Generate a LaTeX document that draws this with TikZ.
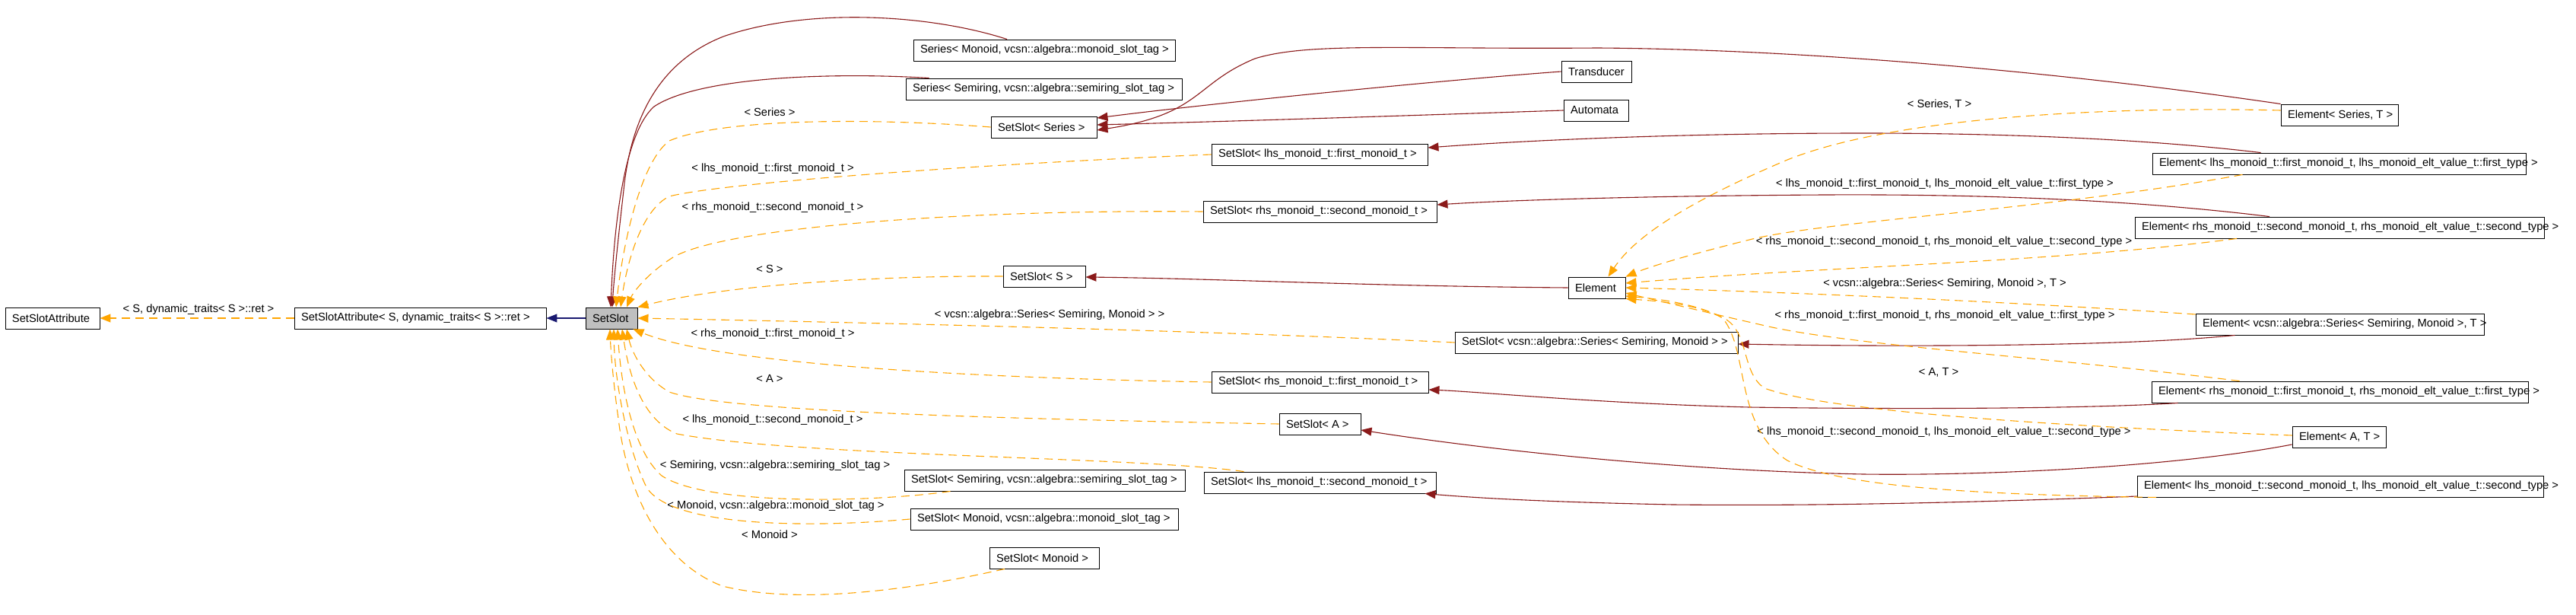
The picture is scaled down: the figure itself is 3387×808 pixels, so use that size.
\documentclass[tikz,border=0pt]{standalone}
\usepackage{fontspec}
\setmainfont{Liberation Sans}
\usetikzlibrary{arrows.meta,calc}
\definecolor{tmplc}{HTML}{FFA500}
\definecolor{privc}{HTML}{8B1A1A}
\definecolor{pubc}{HTML}{191970}
\definecolor{selc}{HTML}{BFBFBF}
\newcommand\bxt[2]{\makebox[#1pt][l]{\hspace*{9pt}#2}}
\begin{document}
\begin{tikzpicture}[x=1pt,y=-1pt,
  cls/.style={draw=black, line width=0.9pt, inner sep=0pt, minimum height=28pt, font=\fontsize{14.7}{17}\selectfont, fill=white},
  lbl/.style={inner sep=0pt, font=\fontsize{14.7}{17}\selectfont},
  tmpl/.style={draw=tmplc, line width=1.1pt, dash pattern=on 11pt off 7pt, -{Triangle[length=14pt,width=11pt,fill=tmplc]}},
  priv/.style={draw=privc, line width=1.1pt, -{Triangle[length=14pt,width=11pt,fill=privc]}},
  pub/.style={draw=pubc, line width=1.1pt, -{Triangle[length=14pt,width=11pt,fill=pubc]}}]
\useasboundingbox (0,0) rectangle (3387,808);
\fill[white] (0,0) rectangle (3387,808);
% nodes
\node[cls] (sa) at (69,418) {\bxt{124}{SetSlotAttribute}};
\node[cls] (sas) at (552.5,418) {\bxt{331}{SetSlotAttribute< S, dynamic\_traits< S >::ret >}};
\node[cls,fill=selc] (ss) at (804,418) {\bxt{68}{SetSlot}};
\node[cls] (serM) at (1373,66) {\bxt{344}{Series< Monoid, vcsn::algebra::monoid\_slot\_tag >}};
\node[cls] (serS) at (1372.5,117) {\bxt{363}{Series< Semiring, vcsn::algebra::semiring\_slot\_tag >}};
\node[cls] (ssSer) at (1372.5,167) {\bxt{139}{SetSlot< Series >}};
\node[cls] (trans) at (2099,94) {\bxt{92}{Transducer}};
\node[cls] (auto) at (2098.5,145) {\bxt{85}{Automata}};
\node[cls] (ssLF) at (1735,203) {\bxt{284}{SetSlot< lhs\_monoid\_t::first\_monoid\_t >}};
\node[cls] (ssRS) at (1735.5,278) {\bxt{307}{SetSlot< rhs\_monoid\_t::second\_monoid\_t >}};
\node[cls] (ssS) at (1373,363) {\bxt{108}{SetSlot< S >}};
\node[cls] (elem) at (2099.5,378) {\bxt{75}{Element}};
\node[cls] (ssV) at (2099,450) {\bxt{372}{SetSlot< vcsn::algebra::Series< Semiring, Monoid > >}};
\node[cls] (ssRF) at (1735.5,502) {\bxt{285}{SetSlot< rhs\_monoid\_t::first\_monoid\_t >}};
\node[cls] (ssA) at (1735.5,557) {\bxt{107}{SetSlot< A >}};
\node[cls] (ssSem) at (1373.5,631) {\bxt{369}{SetSlot< Semiring, vcsn::algebra::semiring\_slot\_tag >}};
\node[cls] (ssLS) at (1735.5,634) {\bxt{305}{SetSlot< lhs\_monoid\_t::second\_monoid\_t >}};
\node[cls] (ssMon) at (1373,682) {\bxt{352}{SetSlot< Monoid, vcsn::algebra::monoid\_slot\_tag >}};
\node[cls] (ssM) at (1373,733) {\bxt{144}{SetSlot< Monoid >}};
\node[cls] (eST) at (3076,151) {\bxt{154}{Element< Series, T >}};
\node[cls] (eLF) at (3075.5,215) {\bxt{491}{Element< lhs\_monoid\_t::first\_monoid\_t, lhs\_monoid\_elt\_value\_t::first\_type >}};
\node[cls] (eRS) at (3076,299) {\bxt{538}{Element< rhs\_monoid\_t::second\_monoid\_t, rhs\_monoid\_elt\_value\_t::second\_type >}};
\node[cls] (eV) at (3076.5,426) {\bxt{379}{Element< vcsn::algebra::Series< Semiring, Monoid >, T >}};
\node[cls] (eRF) at (3076.5,515) {\bxt{495}{Element< rhs\_monoid\_t::first\_monoid\_t, rhs\_monoid\_elt\_value\_t::first\_type >}};
\node[cls] (eAT) at (3075.5,574) {\bxt{123}{Element< A, T >}};
\node[cls] (eLS) at (3077,639) {\bxt{534}{Element< lhs\_monoid\_t::second\_monoid\_t, lhs\_monoid\_elt\_value\_t::second\_type >}};
% labels
\node[lbl] (l1) at (261,407) {< S, dynamic\_traits< S >::ret >};
\node[lbl] (l2) at (1012,147) {< Series >};
\node[lbl] (l3) at (1016,222) {< lhs\_monoid\_t::first\_monoid\_t >};
\node[lbl] (l4) at (1016,273) {< rhs\_monoid\_t::second\_monoid\_t >};
\node[lbl] (l5) at (1012,353) {< S >};
\node[lbl] (l6) at (1380,414) {< vcsn::algebra::Series< Semiring, Monoid > >};
\node[lbl] (l7) at (1016,439) {< rhs\_monoid\_t::first\_monoid\_t >};
\node[lbl] (l8) at (1012,497) {< A >};
\node[lbl] (l9) at (1016,552) {< lhs\_monoid\_t::second\_monoid\_t >};
\node[lbl] (l10) at (1019,612) {< Semiring, vcsn::algebra::semiring\_slot\_tag >};
\node[lbl] (l11) at (1020,665) {< Monoid, vcsn::algebra::monoid\_slot\_tag >};
\node[lbl] (l12) at (1012,702) {< Monoid >};
\node[lbl] (l13) at (2550,137) {< Series, T >};
\node[lbl] (l14) at (2557,242) {< lhs\_monoid\_t::first\_monoid\_t, lhs\_monoid\_elt\_value\_t::first\_type >};
\node[lbl] (l15) at (2556,318) {< rhs\_monoid\_t::second\_monoid\_t, rhs\_monoid\_elt\_value\_t::second\_type >};
\node[lbl] (l16) at (2557,373) {< vcsn::algebra::Series< Semiring, Monoid >, T >};
\node[lbl] (l17) at (2557,415) {< rhs\_monoid\_t::first\_monoid\_t, rhs\_monoid\_elt\_value\_t::first\_type >};
\node[lbl] (l18) at (2549,489) {< A, T >};
\node[lbl] (l19) at (2556,568) {< lhs\_monoid\_t::second\_monoid\_t, lhs\_monoid\_elt\_value\_t::second\_type >};
% left chain
\draw[tmpl] (sas.west) -- (sa.east);
\draw[pub] (ss.west) -- (sas.east);
% private to SetSlot
\draw[priv] ($(serM.north)+(-49,0)$) .. controls (1220,18) and (1060,10) .. (951,48) .. controls (870,80) and (830,150) .. (820,250) .. controls (812,320) and (807,370) .. ($(ss.north)+(1,0)$);
\draw[priv] ($(serS.north)+(-151,0)$) .. controls (1100,95) and (920,100) .. (860,140) .. controls (815,180) and (806,330) .. ($(ss.north)+(-1,0)$);
% templates to SetSlot
\draw[tmpl] (ssSer.west) .. controls (1150,155) and (950,155) .. (880,185) .. controls (840,215) and (818,330) .. ($(ss.north)+(6,0)$);
\draw[tmpl] (ssLF.west) .. controls (1300,215) and (950,240) .. (880,258) .. controls (845,275) and (825,340) .. ($(ss.north)+(12,0)$);
\draw[tmpl] (ssRS.west) .. controls (1250,275) and (950,300) .. (885,338) .. controls (850,360) and (832,385) .. ($(ss.north)+(20,0)$);
\draw[tmpl] (ssS.west) .. controls (1150,362) and (950,375) .. (ss.north east);
\draw[tmpl] (ssV.west) .. controls (1600,435) and (1200,425) .. (ss.east);
\draw[tmpl] (ssRF.west) .. controls (1300,497) and (950,480) .. ($(ss.south east)+(-6,0)$);
\draw[tmpl] (ssA.west) .. controls (1300,550) and (950,540) .. (880,515) .. controls (845,495) and (830,460) .. ($(ss.south)+(20,0)$);
\draw[tmpl] ($(ssLS.north)+(-100,0)$) .. controls (1500,600) and (1050,600) .. (890,570) .. controls (840,550) and (825,480) .. ($(ss.south)+(14,0)$);
\draw[tmpl] ($(ssSem.south)+(-124,0)$) .. controls (1150,660) and (930,665) .. (870,625) .. controls (830,590) and (816,500) .. ($(ss.south)+(8,0)$);
\draw[tmpl] (ssMon.west) .. controls (1050,695) and (880,690) .. (850,640) .. controls (825,590) and (808,500) .. ($(ss.south)+(3,0)$);
\draw[tmpl] ($(ssM.south)+(-52,0)$) .. controls (1200,775) and (1050,795) .. (950,770) .. controls (870,740) and (825,650) .. (813,550) .. controls (806,500) and (803,460) .. ($(ss.south)+(-2,0)$);
% private to SetSlot<Series>
\draw[priv] (trans.west) .. controls (1900,105) and (1600,135) .. ($(ssSer.east)+(0,-12)$);
\draw[priv] (auto.west) .. controls (1850,152) and (1600,160) .. ($(ssSer.east)+(0,-3)$);
\draw[priv] (eST.north west) .. controls (2750,100) and (2400,65) .. (2100,63) .. controls (1850,65) and (1720,55) .. (1650,77) .. controls (1570,110) and (1580,150) .. ($(ssSer.east)+(0,4)$);
% private others
\draw[priv] ($(eLF.north)+(-103,0)$) .. controls (2800,180) and (2600,175) .. (2450,175) .. controls (2200,175) and (2000,185) .. ($(ssLF.east)+(0,-9)$);
\draw[priv] ($(eRS.north)+(-92,0)$) .. controls (2800,262) and (2600,255) .. (2400,256) .. controls (2200,257) and (2000,262) .. ($(ssRS.east)+(0,-9)$);
\draw[priv] (elem.west) .. controls (1800,376) and (1600,366) .. ($(ssS.east)+(0,1)$);
\draw[priv] ($(eV.south)+(-138,0)$) .. controls (2800,455) and (2500,456) .. ($(ssV.east)+(0,2)$);
\draw[priv] ($(eRF.south)+(-213,0)$) .. controls (2750,537) and (2500,538) .. (2300,535) .. controls (2100,530) and (1950,515) .. ($(ssRF.east)+(0,10)$);
\draw[priv] ($(eAT.west)+(0,10)$) .. controls (2850,615) and (2600,625) .. (2450,623) .. controls (2200,618) and (1950,590) .. ($(ssA.east)+(0,8)$);
\draw[priv] ($(eLS.west)+(0,13)$) .. controls (2600,660) and (2400,665) .. (2200,663) .. controls (2050,660) and (1950,655) .. ($(ssLS.south east)+(-15,0)$);
% templates to Element
\draw[tmpl] ($(eST.west)+(0,-6)$) .. controls (2800,140) and (2500,150) .. (2350,210) .. controls (2220,265) and (2150,310) .. ($(elem.north)+(15,0)$);
\draw[tmpl] ($(eLF.south)+(-127,0)$) .. controls (2700,275) and (2400,290) .. (2300,315) .. controls (2220,335) and (2170,350) .. (elem.north east);
\draw[tmpl] ($(eRS.south)+(-135,0)$) .. controls (2700,345) and (2400,350) .. ($(elem.east)+(0,-6)$);
\draw[tmpl] ($(eV.west)+(0,-13)$) .. controls (2700,400) and (2400,385) .. (elem.east);
\draw[tmpl] ($(eRF.north)+(-132,0)$) .. controls (2700,470) and (2450,455) .. (2330,430) .. controls (2250,412) and (2180,395) .. ($(elem.east)+(0,7)$);
\draw[tmpl] ($(eAT.west)+(0,-2)$) .. controls (2700,560) and (2400,540) .. (2320,510) .. controls (2290,490) and (2300,440) .. (2270,420) .. controls (2230,397) and (2170,392) .. ($(elem.east)+(0,11)$);
\draw[tmpl] ($(eLS.south)+(-242,0)$) .. controls (2600,650) and (2420,640) .. (2350,605) .. controls (2280,560) and (2300,460) .. (2265,418) .. controls (2230,398) and (2170,395) .. (elem.south east);
\end{tikzpicture}
\end{document}
